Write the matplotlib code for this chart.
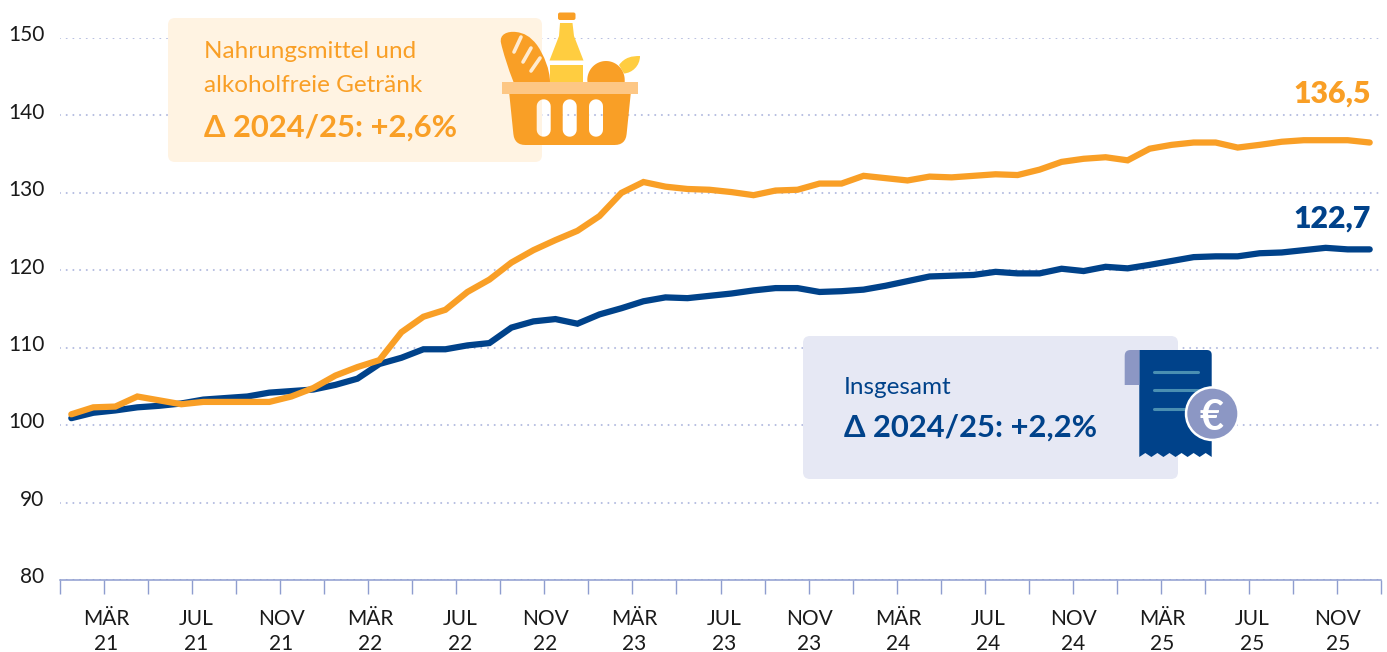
import numpy as np
import matplotlib
matplotlib.use("Agg")
import matplotlib.pyplot as plt
from matplotlib.path import Path
from matplotlib.patches import PathPatch, Circle, FancyBboxPatch, Polygon
from matplotlib.transforms import ScaledTranslation

# ---------- data ----------
insgesamt = [100.9, 101.6, 101.9, 102.3, 102.5, 102.8, 103.3, 103.5, 103.7, 104.2,
             104.4, 104.6, 105.2, 106.0, 107.9, 108.7, 109.8, 109.8, 110.3, 110.6,
             112.6, 113.4, 113.7, 113.1, 114.3, 115.1, 116.0, 116.5, 116.4, 116.7,
             117.0, 117.4, 117.7, 117.7, 117.2, 117.3, 117.5, 118.0, 118.6, 119.2,
             119.3, 119.4, 119.8, 119.6, 119.6, 120.2, 119.9, 120.45, 120.25, 120.7,
             121.2, 121.7, 121.8, 121.8, 122.2, 122.3, 122.6, 122.9, 122.7, 122.7]
nahrung = [101.4, 102.3, 102.4, 103.7, 103.2, 102.7, 103.0, 103.0, 103.0, 103.0,
           103.7, 104.8, 106.4, 107.5, 108.4, 112.0, 114.0, 114.9, 117.2, 118.8,
           121.0, 122.6, 123.9, 125.1, 127.0, 130.0, 131.4, 130.8, 130.5, 130.4,
           130.1, 129.7, 130.3, 130.4, 131.2, 131.2, 132.2, 131.9, 131.6, 132.1,
           132.0, 132.2, 132.4, 132.3, 133.0, 134.0, 134.4, 134.6, 134.2, 135.7,
           136.2, 136.5, 136.5, 135.85, 136.2, 136.6, 136.8, 136.8, 136.8, 136.5]
months = np.arange(len(insgesamt)) + 0.5
y_ticks = [80, 90, 100, 110, 120, 130, 140, 150]
x_label_months = ["MÄR", "JUL", "NOV"] * 5
x_label_years = ["21", "21", "21", "22", "22", "22", "23", "23", "23",
                 "24", "24", "24", "25", "25", "25"]
last_insgesamt = "122,7"
last_nahrung = "136,5"

# ---------- style ----------
ORANGE = "#F99F26"
BLUE = "#00428A"
AXIS = "#8E9DCF"
GRID = "#B4BCE0"
ORANGE_BG = "#FFF3E2"
BLUE_BG = "#E6E8F4"
PERI = "#8C97C4"
YELLOW = "#FFCD40"
plt.rcParams["font.family"] = ["Lato", "DejaVu Sans"]

W, H = 1387, 652
fig = plt.figure(figsize=(W / 100, H / 100), dpi=100, facecolor="white")
L, R, T, B = 60.3, 1380.7, 38.0, 580.0
ax = fig.add_axes([L / W, 1 - B / H, (R - L) / W, (B - T) / H])
ax.set_xlim(0, 60)
ax.set_ylim(80, 150)
for s in ("top", "left", "right"):
    ax.spines[s].set_visible(False)
ax.spines["bottom"].set_color(AXIS)
ax.spines["bottom"].set_linewidth(1.1)
ax.set_facecolor("none")

ax.set_yticks(y_ticks)
ax.set_yticklabels([str(v) for v in y_ticks])
ax.tick_params(axis="y", length=0, pad=11.5, labelsize=15, labelcolor="#1a1a1a")
ax.yaxis.grid(True, color=GRID, lw=1.5, linestyle=(0, (0.01, 3.2)), dash_capstyle="round")
ax.set_axisbelow(True)
off = ScaledTranslation(0, 3.4 / 72, fig.dpi_scale_trans)
for lb in ax.get_yticklabels():
    lb.set_transform(lb.get_transform() + off)

ticks = np.arange(0, 61, 2)
labels = [""] * len(ticks)
for k, (m, yr) in enumerate(zip(x_label_months, x_label_years)):
    labels[1 + 2 * k] = f"{m}\n{yr}"
ax.set_xticks(ticks)
ax.set_xticklabels(labels, linespacing=1.33)
ax.tick_params(axis="x", length=10, width=1.0, color=AXIS, pad=11, labelsize=15, labelcolor="#1a1a1a")
nudge = {"MÄR": 1.5, "JUL": 3.5, "NOV": 1.0}
for lb in ax.get_xticklabels():
    txt = lb.get_text()
    if txt:
        lb.set_transform(lb.get_transform() + ScaledTranslation(nudge[txt.split("\n")[0]] / 100, 0, fig.dpi_scale_trans))

ax.plot(months, insgesamt, color=BLUE, lw=4.5, solid_capstyle="round", solid_joinstyle="miter", zorder=3, clip_on=False)
ax.plot(months, nahrung, color=ORANGE, lw=4.5, solid_capstyle="round", solid_joinstyle="miter", zorder=4, clip_on=False)

# ---------- overlay in pixel coordinates ----------
ov = fig.add_axes([0, 0, 1, 1])
ov.set_xlim(0, W)
ov.set_ylim(H, 0)
ov.axis("off")
ov.patch.set_alpha(0)


def rbox(x0, y0, x1, y1, r, color, z=1):
    p = FancyBboxPatch((x0 + r, y0 + r), x1 - x0 - 2 * r, y1 - y0 - 2 * r,
                       boxstyle=f"round,pad={r},rounding_size={r}", fc=color, ec="none", zorder=z)
    ov.add_patch(p)


def pill(x0, y0, x1, y1, n=14):
    """closed pill outline, as a polygon"""
    r = (x1 - x0) / 2
    t = np.linspace(np.pi, 0, n)
    top = np.c_[x0 + r + r * np.cos(t), y0 + r - r * np.sin(t)]
    t2 = np.linspace(0, -np.pi, n)
    bot = np.c_[x0 + r + r * np.cos(t2), y1 - r - r * np.sin(t2)]
    return np.vstack([top, bot])


def corner_poly(pts, radii, n=8):
    out = []
    m = len(pts)
    for i, (p, r) in enumerate(zip(pts, radii)):
        p = np.array(p, float)
        if r == 0:
            out.append(p)
            continue
        a = np.array(pts[i - 1], float)
        b = np.array(pts[(i + 1) % m], float)
        u = (a - p) / np.linalg.norm(a - p)
        v = (b - p) / np.linalg.norm(b - p)
        for s in np.linspace(0, 1, n):
            q0, q1 = p + u * r, p + v * r
            out.append((1 - s) ** 2 * q0 + 2 * s * (1 - s) * p + s ** 2 * q1)
    return np.array(out)


def signed_area(v):
    x, y = v[:, 0], v[:, 1]
    return 0.5 * np.sum(x * np.roll(y, -1) - np.roll(x, -1) * y)


def compound(outer, holes, color, z):
    if signed_area(outer) < 0:
        outer = outer[::-1]
    verts, codes = [], []
    for poly in [outer] + [h[::-1] if signed_area(h) > 0 else h for h in holes]:
        verts += list(poly) + [poly[0]]
        codes += [Path.MOVETO] + [Path.LINETO] * (len(poly) - 1) + [Path.CLOSEPOLY]
    ov.add_patch(PathPatch(Path(np.array(verts), codes), fc=color, ec="none", zorder=z))


def smooth(ctrl, color, z):
    """closed shape from cubic control points"""
    verts = [ctrl[0]] + ctrl[1:]
    codes = [Path.MOVETO] + [Path.CURVE4] * (len(ctrl) - 1)
    ov.add_patch(PathPatch(Path(verts, codes), fc=color, ec="none", zorder=z))


# boxes
rbox(168, 18, 542, 162, 7, ORANGE_BG, 1)
rbox(803, 336, 1178, 479, 7, BLUE_BG, 1)

# box text
ov.text(204, 58, "Nahrungsmittel und", fontsize=17.5, color=ORANGE, va="baseline", zorder=6)
ov.text(204, 92, "alkoholfreie Getränk", fontsize=17.5, color=ORANGE, va="baseline", zorder=6)
ov.text(204, 137, "Δ 2024/25: +2,6%", fontsize=22.3, color=ORANGE, weight="bold", va="baseline", zorder=6)
ov.text(844, 394, "Insgesamt", fontsize=17.5, color=BLUE, va="baseline", zorder=6)
ov.text(844, 437, "Δ 2024/25: +2,2%", fontsize=22.3, color=BLUE, weight="bold", va="baseline", zorder=6)

# end labels
ov.text(1371, 103, last_nahrung, fontsize=21.8, color=ORANGE, weight="heavy", ha="right", va="baseline", zorder=6)
ov.text(1371, 228, last_insgesamt, fontsize=21.8, color=BLUE, weight="heavy", ha="right", va="baseline", zorder=6)

# basket icon
body = corner_poly([(509.3, 94), (630.7, 94), (625.5, 145), (514.5, 145)], [0, 0, 11, 11])
holes = [pill(536.7, 99.3, 550.7, 136.7), pill(562.7, 99.3, 576.7, 136.7), pill(589, 99.3, 603, 136.7)]
compound(body, holes, ORANGE, 3)
ov.add_patch(plt.Rectangle((502, 82), 136, 12, fc="#FDC785", ec="none", zorder=4))
# baguette
smooth([(513.5, 82), (508, 68), (503, 52), (501, 43), (499, 34), (508, 31), (516, 32),
        (524, 33), (530, 36), (537, 45), (544, 55), (550, 70), (550, 82), (530, 82), (520, 82), (513.5, 82)],
       ORANGE, 2)
for (x0, y0, x1, y1) in [(521, 37, 514, 52), (531, 48, 523, 62), (540, 58, 531, 71)]:
    ov.plot([x0, x1], [y0, y1], color="#FFEBD0", lw=2.6, solid_capstyle="round", zorder=3)
# bottle
rbox(558, 12.5, 575.5, 20, 2, ORANGE, 3)
ov.add_patch(Polygon([(560, 23), (572.5, 23), (574, 36), (583.5, 60.5), (549.5, 60.5), (559, 36)],
                     fc=YELLOW, ec="none", zorder=3))
ov.add_patch(plt.Rectangle((549.7, 64.5), 33.6, 17.5, fc=YELLOW, ec="none", zorder=3))
# leaf
smooth([(619, 65), (625, 57), (632, 56), (640, 56), (640, 66), (632, 73), (624, 73.5)], YELLOW, 2)
# fruit
t = np.linspace(np.pi, 0, 40)
ov.fill(np.r_[587.5, 606 + 18.7 * np.cos(t), 624.7], np.r_[82, 80 - 19 * np.sin(t), 82], color=ORANGE, lw=0, zorder=3)

# receipt icon
bx0, bx1, by0, by1 = 1139.3, 1211.7, 350, 453
n_teeth = 6
tx = np.linspace(bx1, bx0, n_teeth * 2 + 1)
ty = np.where(np.arange(n_teeth * 2 + 1) % 2 == 0, by1 + 4, by1)
top = corner_poly([(bx0, by0), (bx1, by0), (bx1, by1 + 4), (bx0, by1 + 4)], [0, 5, 0, 0])[:9]
ov.add_patch(Polygon(np.vstack([top, np.c_[tx, ty]]), fc=BLUE, ec="none", zorder=3))
curl = corner_poly([(1124.7, 350), (1139.3, 350), (1139.3, 385), (1124.7, 385)], [6, 0, 0, 0])
ov.add_patch(Polygon(curl, fc=PERI, ec="none", zorder=3))
for yy in (371.7, 390.3, 409):
    ov.plot([1153.5, 1197.5], [yy, yy], color="#4A8FB2", lw=2.2, solid_capstyle="round", zorder=4)
ov.add_patch(Circle((1212.3, 413.7), 27.5, fc="white", ec="none", zorder=5))
ov.add_patch(Circle((1212.3, 413.7), 25, fc=PERI, ec="none", zorder=5))
ov.text(1211.5, 414, "€", fontsize=30, color="white", weight="bold", ha="center", va="center_baseline", zorder=6)

fig.savefig("out.png", dpi=100, facecolor="white")
